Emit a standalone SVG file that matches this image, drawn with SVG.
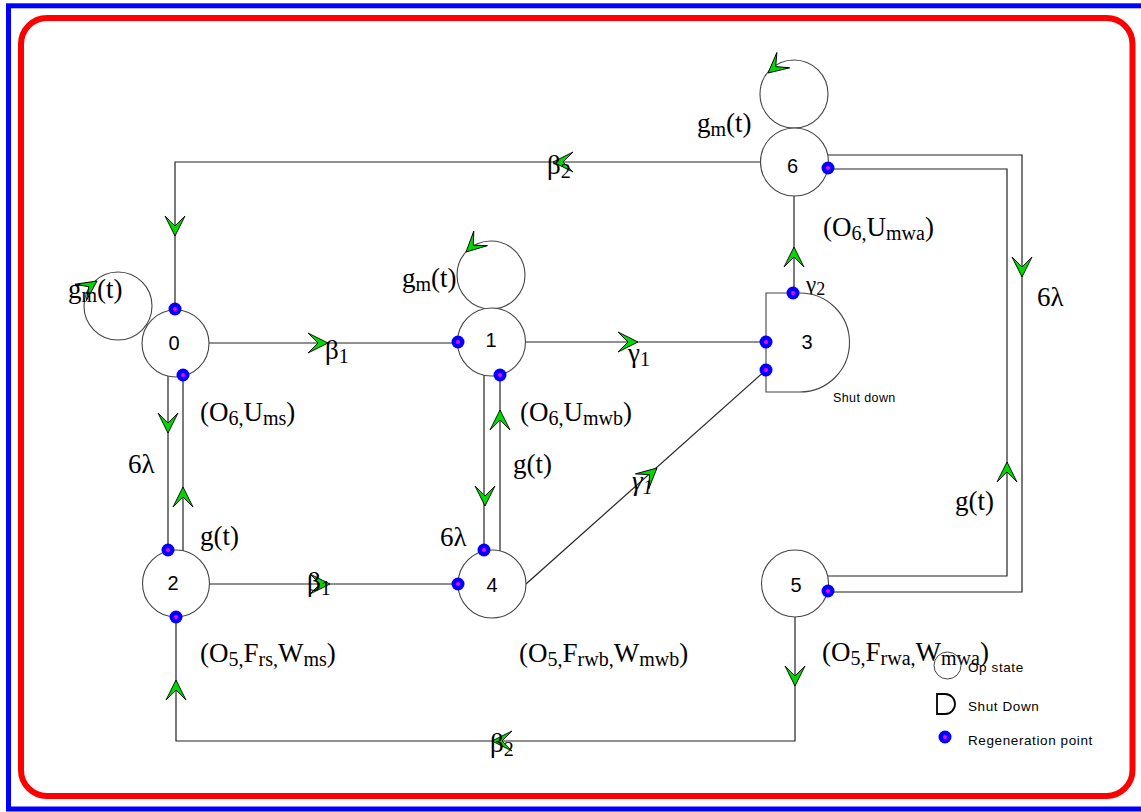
<svg xmlns="http://www.w3.org/2000/svg" xmlns:xlink="http://www.w3.org/1999/xlink" width="1141" height="812" viewBox="0 0 1141 812">
<style>
.ln{fill:none;stroke:#222;stroke-width:1.2}
.nd{fill:#fff;stroke:#444;stroke-width:1.1}
.lp{fill:none;stroke:#444;stroke-width:1.1}
.nl{font-family:"Liberation Sans",Arial,sans-serif;font-size:20px;fill:#000;text-anchor:middle}
.tx{font-family:"Liberation Serif","Times New Roman",serif;font-size:27px;fill:#000}
.sb{font-size:20px}
.sm{font-family:"Liberation Sans",Arial,sans-serif;font-size:13.5px;letter-spacing:0.6px;fill:#000}
.ah{fill:#00d800;stroke:#000;stroke-width:0.9;stroke-linejoin:miter}
.rg{fill:#0000ff}
.rc{fill:#ff00ff}
</style>
<defs>
<path id="ah" class="ah" d="M0,0 L-20,-10 L-10,0 L-20,10 Z"/>
<g id="rp"><circle r="6.5" class="rg"/><circle r="2" class="rc"/></g>
</defs>
<rect x="8.5" y="5.8" width="1140" height="803.2" fill="#fff" stroke="#0000ff" stroke-width="5"/>
<rect x="21" y="18" width="1111.5" height="778" rx="26" fill="none" stroke="#ff0000" stroke-width="6"/>

<g id="connectors">
<polyline class="ln" points="761,162 175,162 175,309"/>
<line class="ln" x1="209" y1="343" x2="458" y2="343"/>
<line class="ln" x1="525" y1="342" x2="766" y2="342"/>
<line class="ln" x1="168" y1="376" x2="168" y2="551"/>
<line class="ln" x1="183" y1="551" x2="183" y2="375"/>
<line class="ln" x1="209" y1="584" x2="458" y2="584"/>
<line class="ln" x1="484" y1="375" x2="484" y2="551"/>
<line class="ln" x1="500" y1="551" x2="500" y2="375"/>
<line class="ln" x1="526" y1="584" x2="766" y2="370"/>
<line class="ln" x1="794" y1="293" x2="794" y2="196"/>
<polyline class="ln" points="827,155 1022,155 1022,592 828,592"/>
<polyline class="ln" points="828,576 1007,576 1007,169 828,169"/>
<polyline class="ln" points="795,617 795,741 176,741 176,617"/>
<use xlink:href="#ah" transform="translate(553,162) rotate(180)"/>
<use xlink:href="#ah" transform="translate(175,236) rotate(90)"/>
<use xlink:href="#ah" transform="translate(328,343)"/>
<use xlink:href="#ah" transform="translate(638,342)"/>
<use xlink:href="#ah" transform="translate(168,433) rotate(90)"/>
<use xlink:href="#ah" transform="translate(183,487) rotate(-90)"/>
<use xlink:href="#ah" transform="translate(330,584)"/>
<use xlink:href="#ah" transform="translate(485,506) rotate(90)"/>
<use xlink:href="#ah" transform="translate(500,410) rotate(-90)"/>
<use xlink:href="#ah" transform="translate(657,468) rotate(-41.8)"/>
<use xlink:href="#ah" transform="translate(794,247) rotate(-90)"/>
<use xlink:href="#ah" transform="translate(1022,277) rotate(90)"/>
<use xlink:href="#ah" transform="translate(1007,462) rotate(-90)"/>
<use xlink:href="#ah" transform="translate(795,686) rotate(90)"/>
<use xlink:href="#ah" transform="translate(492,741) rotate(180)"/>
<use xlink:href="#ah" transform="translate(176,680) rotate(-90)"/>
</g>

<g id="labels">
<text class="tx" x="325" y="359">β<tspan class="sb" dy="4">1</tspan></text>
<text class="tx" x="628" y="362">γ<tspan class="sb" dy="4">1</tspan></text>
<text class="tx" x="307" y="591">β<tspan class="sb" dy="4">1</tspan></text>
<text class="tx" x="632" y="490" font-style="italic">γ<tspan class="sb" dy="4">1</tspan></text>
<text class="tx" x="806" y="292" style="font-size:23px">γ<tspan style="font-size:18px" dy="3">2</tspan></text>
<text class="tx" x="547" y="174">β<tspan class="sb" dy="4">2</tspan></text>
<text class="tx" x="490" y="752">β<tspan class="sb" dy="4">2</tspan></text>
<text class="tx" x="128" y="473">6λ</text>
<text class="tx" x="200" y="545">g(t)</text>
<text class="tx" x="440" y="546">6λ</text>
<text class="tx" x="513" y="473">g(t)</text>
<text class="tx" x="1037" y="306">6λ</text>
<text class="tx" x="955" y="510">g(t)</text>
</g>

<g id="node0">
<circle class="lp" cx="118" cy="306" r="34"/>
<use xlink:href="#ah" transform="translate(97,281) rotate(-35)"/>
<circle class="nd" cx="175.5" cy="343.5" r="33.5"/>
<text class="nl" x="174" y="350">0</text>
<use xlink:href="#rp" x="175" y="309"/>
<use xlink:href="#rp" x="183" y="375"/>
<text class="tx" x="68" y="298">g<tspan class="sb" dy="4">m</tspan><tspan dy="-4">(t)</tspan></text>
<text class="tx" x="200" y="421">(O<tspan class="sb" dy="4">6,</tspan><tspan dy="-4">U</tspan><tspan class="sb" dy="4">ms</tspan><tspan dy="-4">)</tspan></text>
</g>

<g id="node1">
<circle class="lp" cx="491" cy="275" r="34"/>
<use xlink:href="#ah" transform="translate(466,252) rotate(137)"/>
<circle class="nd" cx="491.5" cy="342" r="34"/>
<text class="nl" x="491" y="347">1</text>
<use xlink:href="#rp" x="458" y="342"/>
<use xlink:href="#rp" x="500" y="375"/>
<text class="tx" x="402" y="287">g<tspan class="sb" dy="4">m</tspan><tspan dy="-4">(t)</tspan></text>
<text class="tx" x="520" y="421">(O<tspan class="sb" dy="4">6,</tspan><tspan dy="-4">U</tspan><tspan class="sb" dy="4">mwb</tspan><tspan dy="-4">)</tspan></text>
</g>

<g id="node2">
<circle class="nd" cx="176" cy="583.5" r="33.5"/>
<text class="nl" x="173" y="590">2</text>
<use xlink:href="#rp" x="168" y="550"/>
<use xlink:href="#rp" x="176" y="617"/>
<text class="tx" x="200" y="662">(O<tspan class="sb" dy="4">5,</tspan><tspan dy="-4">F</tspan><tspan class="sb" dy="4">rs,</tspan><tspan dy="-4">W</tspan><tspan class="sb" dy="4">ms</tspan><tspan dy="-4">)</tspan></text>
</g>

<g id="node3">
<path class="nd" d="M766,293 L800,293 A49.5,49.5 0 0 1 800,392 L766,392 Z"/>
<text class="nl" x="807" y="349">3</text>
<use xlink:href="#rp" x="793" y="293"/>
<use xlink:href="#rp" x="766" y="342"/>
<use xlink:href="#rp" x="766" y="370"/>
<text class="sm" x="833" y="402" style="font-size:12.5px;letter-spacing:0.4px">Shut down</text>
</g>

<g id="node4">
<circle class="nd" cx="492" cy="584" r="34"/>
<text class="nl" x="492" y="592">4</text>
<use xlink:href="#rp" x="484" y="550"/>
<use xlink:href="#rp" x="458" y="584"/>
<text class="tx" x="519" y="662">(O<tspan class="sb" dy="4">5,</tspan><tspan dy="-4">F</tspan><tspan class="sb" dy="4">rwb,</tspan><tspan dy="-4">W</tspan><tspan class="sb" dy="4">mwb</tspan><tspan dy="-4">)</tspan></text>
</g>

<g id="node5">
<circle class="nd" cx="795" cy="583.5" r="33.5"/>
<text class="nl" x="796" y="592">5</text>
<use xlink:href="#rp" x="828" y="591"/>
<text class="tx" x="822" y="661">(O<tspan class="sb" dy="4">5,</tspan><tspan dy="-4">F</tspan><tspan class="sb" dy="4">rwa,</tspan><tspan dy="-4">W</tspan><tspan class="sb" dy="4">mwa</tspan><tspan dy="-4">)</tspan></text>
</g>

<g id="node6">
<circle class="lp" cx="794" cy="94" r="34"/>
<use xlink:href="#ah" transform="translate(768,73) rotate(140)"/>
<circle class="nd" cx="794.5" cy="162" r="34"/>
<text class="nl" x="792.5" y="173">6</text>
<use xlink:href="#rp" x="828" y="168"/>
<text class="tx" x="697" y="132">g<tspan class="sb" dy="4">m</tspan><tspan dy="-4">(t)</tspan></text>
<text class="tx" x="823" y="236">(O<tspan class="sb" dy="4">6,</tspan><tspan dy="-4">U</tspan><tspan class="sb" dy="4">mwa</tspan><tspan dy="-4">)</tspan></text>
</g>

<g id="legend">
<circle cx="947.5" cy="665.5" r="13.5" fill="none" stroke="#444" stroke-width="1"/>
<text class="sm" x="968" y="672">Op state</text>
<path d="M937,694 L945,694 A10,10 0 0 1 945,714 L937,714 Z" fill="none" stroke="#000" stroke-width="1.8"/>
<text class="sm" x="968" y="711">Shut Down</text>
<use xlink:href="#rp" x="945" y="737"/>
<text class="sm" x="968" y="745">Regeneration point</text>
</g>
</svg>
